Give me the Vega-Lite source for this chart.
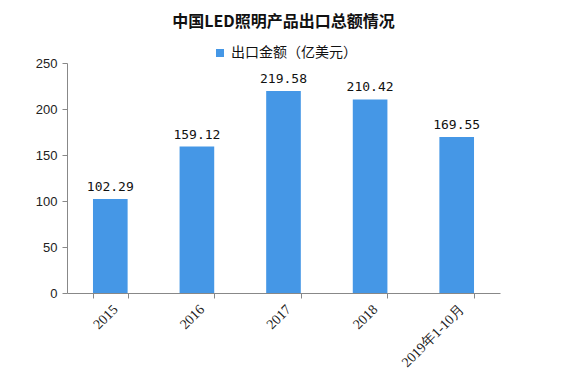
{
  "$schema": "https://vega.github.io/schema/vega-lite/v6.json",
  "width": 433,
  "height": 230,
  "autosize": {"type": "none"},
  "padding": {"left": 67, "top": 63, "right": 70, "bottom": 88},
  "background": "white",
  "title": {
    "text": "中国LED照明产品出口总额情况",
    "font": "Noto Sans CJK SC",
    "fontSize": 16,
    "fontWeight": "bold",
    "color": "#111",
    "anchor": "middle",
    "offset": 16
  },
  "data": {
    "values": [
      {"year": "2015", "value": 102.29, "series": "出口金额（亿美元）"},
      {"year": "2016", "value": 159.12, "series": "出口金额（亿美元）"},
      {"year": "2017", "value": 219.58, "series": "出口金额（亿美元）"},
      {"year": "2018", "value": 210.42, "series": "出口金额（亿美元）"},
      {"year": "2019年1-10月", "value": 169.55, "series": "出口金额（亿美元）"}
    ]
  },
  "config": {"view": {"stroke": null}},
  "encoding": {
    "x": {
      "field": "year",
      "type": "nominal",
      "sort": null,
      "scale": {"paddingInner": 0.6, "paddingOuter": 0.3},
      "axis": {
        "title": null,
        "labelAngle": -45,
        "labelFont": "Liberation Serif",
        "labelFontSize": 14,
        "labelColor": "#222",
        "domainColor": "#888",
        "tickColor": "#888",
        "tickBand": "extent",
        "tickSize": 5,
        "labelPadding": 4
      }
    },
    "y": {
      "field": "value",
      "type": "quantitative",
      "scale": {"domain": [0, 250]},
      "axis": {
        "title": null,
        "values": [0, 50, 100, 150, 200, 250],
        "grid": false,
        "labelFont": "Liberation Sans",
        "labelFontSize": 13,
        "labelColor": "#222",
        "domainColor": "#888",
        "tickColor": "#888",
        "tickSize": 5,
        "labelPadding": 5
      }
    }
  },
  "layer": [
    {
      "mark": {"type": "bar"},
      "encoding": {
        "color": {
          "field": "series",
          "type": "nominal",
          "scale": {"range": ["#4597E6"]},
          "legend": {
            "title": null,
            "orient": "none",
            "legendX": 146,
            "legendY": -17,
            "symbolType": "square",
            "symbolSize": 64,
            "symbolStrokeWidth": 0,
            "labelFont": "Noto Sans CJK SC",
            "labelFontSize": 14,
            "labelColor": "#111"
          }
        }
      }
    },
    {
      "mark": {"type": "text", "dy": -12, "font": "DejaVu Sans Mono", "fontSize": 13, "color": "#111"},
      "encoding": {
        "text": {"field": "value", "type": "quantitative", "format": ".2f"}
      }
    }
  ]
}
